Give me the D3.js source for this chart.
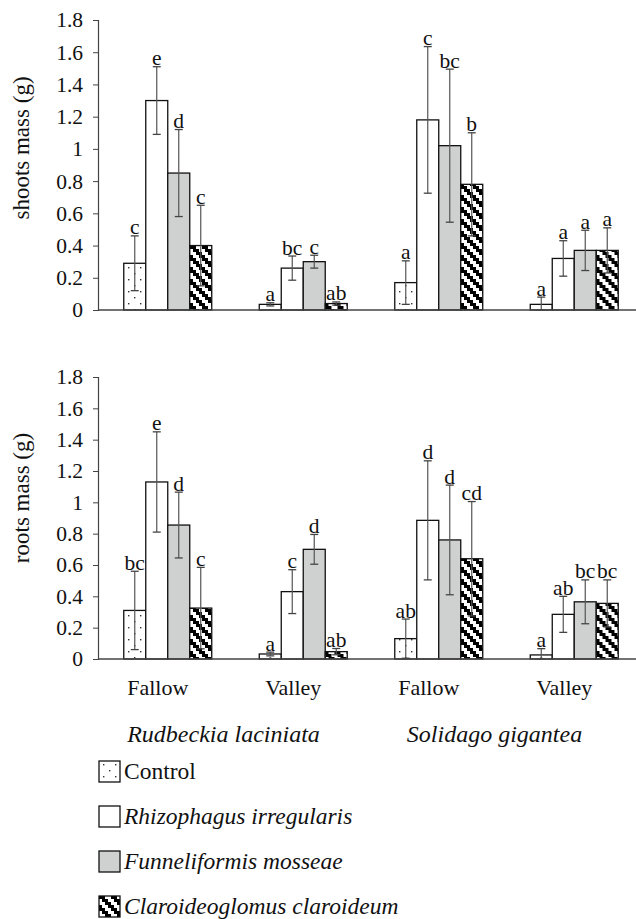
<!DOCTYPE html>
<html>
<head>
<meta charset="utf-8">
<script src="https://cdn.jsdelivr.net/npm/d3@7"></script>
<style>
  body { margin: 0; background: #fff; }
  svg { display: block; }
  svg text { font-family: "Liberation Serif", "Times New Roman", "DejaVu Serif", serif; }
</style>
</head>
<body>
<div id="chart"></div>
<script>
// groups on the x axis, two sites per plant species
var groupKeys = ["R-Fallow", "R-Valley", "S-Fallow", "S-Valley"];
var groupLabels = ["Fallow", "Valley", "Fallow", "Valley"];
var species = ["Rudbeckia laciniata", "Solidago gigantea"];
var treatments = ["Control", "Rhizophagus irregularis", "Funneliformis mosseae", "Claroideoglomus claroideum"];
var yTicks = [0, 0.2, 0.4, 0.6, 0.8, 1, 1.2, 1.4, 1.6, 1.8];

// shoots mass (g): one row per group, one value per treatment
var shootsMean = [[0.29, 1.30, 0.85, 0.40], [0.035, 0.26, 0.30, 0.04], [0.17, 1.18, 1.02, 0.78], [0.035, 0.32, 0.37, 0.37]];
var shootsErr = [[0.17, 0.21, 0.27, 0.25], [0.01, 0.075, 0.04, 0.01], [0.135, 0.455, 0.475, 0.32], [0.045, 0.11, 0.125, 0.14]];
var shootsLetters = [["c", "e", "d", "c"], ["a", "bc", "c", "ab"], ["a", "c", "bc", "b"], ["a", "a", "a", "a"]];

// roots mass (g)
var rootsMean = [[0.31, 1.13, 0.855, 0.325], [0.032, 0.43, 0.70, 0.047], [0.13, 0.885, 0.76, 0.64], [0.026, 0.285, 0.365, 0.355]];
var rootsErr = [[0.25, 0.32, 0.21, 0.26], [0.012, 0.14, 0.095, 0.02], [0.125, 0.38, 0.35, 0.365], [0.04, 0.115, 0.14, 0.15]];
var rootsLetters = [["bc", "e", "d", "c"], ["a", "c", "d", "ab"], ["ab", "d", "d", "cd"], ["a", "ab", "bc", "bc"]];

var width = 636, height = 919;
var axisX = 98, axisEnd = 636;
var serif = "'Liberation Serif', 'Times New Roman', 'DejaVu Serif', serif";

var svg = d3.select("#chart").append("svg")
	.attr("width", width)
	.attr("height", height)
	.attr("font-family", serif);

var defs = svg.append("defs");

// sparse dots for Control
var dots = defs.append("pattern")
	.attr("id", "dots")
	.attr("patternUnits", "userSpaceOnUse")
	.attr("width", 12).attr("height", 12);
dots.append("rect").attr("width", 12).attr("height", 12).attr("fill", "#fff");
dots.append("rect").attr("x", 4).attr("y", 3).attr("width", 1.4).attr("height", 1.4).attr("fill", "#333");
dots.append("rect").attr("x", 10).attr("y", 9).attr("width", 1.4).attr("height", 1.4).attr("fill", "#333");

// stepped diagonal stripes for Claroideoglomus
var stairs = defs.append("pattern")
	.attr("id", "stairs")
	.attr("patternUnits", "userSpaceOnUse")
	.attr("width", 12).attr("height", 12);
stairs.append("rect").attr("width", 12).attr("height", 12).attr("fill", "#fff");
for (var i = 0; i < 4; i++) {
	for (var k = 0; k < 2; k++) {
		stairs.append("rect")
			.attr("x", (3 * i + 3 * k) % 12)
			.attr("y", 3 * i)
			.attr("width", 3).attr("height", 3)
			.attr("fill", "#000");
	}
}

var fills = ["url(#dots)", "#fff", "#cfd1d1", "url(#stairs)"];

var x0 = d3.scaleBand()
	.domain(groupKeys)
	.range([100, 642])
	.paddingInner(0).paddingOuter(0);

var x1 = d3.scaleBand()
	.domain(treatments)
	.range([0, x0.bandwidth()])
	.paddingInner(0).paddingOuter(1.08);

function drawPanel(top, bottom, means, errs, letters, label, labelY) {
	var y = d3.scaleLinear().domain([0, 1.8]).range([bottom, top]);
	var g = svg.append("g");

	var yAxis = g.append("g")
		.attr("transform", "translate(" + axisX + ",0)")
		.call(d3.axisLeft(y).tickValues(yTicks).tickSize(5).tickPadding(10)
			.tickFormat(function(d) { return String(+d.toFixed(1)); }));
	yAxis.attr("font-family", serif).attr("font-size", 21.5);
	yAxis.select(".domain").attr("stroke", "#444").attr("stroke-width", 1.2);
	yAxis.selectAll(".tick line").attr("stroke", "#444");
	yAxis.selectAll(".tick text").attr("fill", "#111");

	g.append("text")
		.attr("transform", "translate(29," + labelY + ") rotate(-90)")
		.attr("text-anchor", "middle")
		.attr("font-size", 23)
		.attr("fill", "#111")
		.text(label);

	groupKeys.forEach(function(key, gi) {
		var gg = g.append("g").attr("transform", "translate(" + x0(key) + ",0)");
		treatments.forEach(function(t, ti) {
			var m = means[gi][ti], e = errs[gi][ti];
			var bx = x1(t), bw = x1.bandwidth(), cx = bx + bw / 2;
			gg.append("rect")
				.attr("x", bx).attr("y", y(m))
				.attr("width", bw).attr("height", y(0) - y(m))
				.attr("fill", fills[ti])
				.attr("stroke", "#111").attr("stroke-width", 1.3);
			var lo = Math.max(0, m - e), hi = m + e;
			gg.append("line")
				.attr("x1", cx).attr("x2", cx)
				.attr("y1", y(lo)).attr("y2", y(hi))
				.attr("stroke", "#555").attr("stroke-width", 1.2);
			[lo, hi].forEach(function(v) {
				gg.append("line")
					.attr("x1", cx - 4).attr("x2", cx + 4)
					.attr("y1", y(v)).attr("y2", y(v))
					.attr("stroke", "#444").attr("stroke-width", 1.3);
			});
			gg.append("text")
				.attr("x", cx).attr("y", y(hi) - 1.5)
				.attr("text-anchor", "middle")
				.attr("font-size", 21.5)
				.attr("fill", "#111")
				.text(letters[gi][ti]);
		});
	});

	g.append("line")
		.attr("x1", axisX).attr("x2", axisEnd)
		.attr("y1", y(0)).attr("y2", y(0))
		.attr("stroke", "#444").attr("stroke-width", 1.3);
}

drawPanel(20, 310, shootsMean, shootsErr, shootsLetters, "shoots mass (g)", 148);
drawPanel(377, 659, rootsMean, rootsErr, rootsLetters, "roots mass (g)", 498);

// site labels
svg.append("g").selectAll("text")
	.data(groupKeys)
	.join("text")
	.attr("x", function(d) { return x0(d) + x0.bandwidth() / 2 - 10; })
	.attr("y", 695)
	.attr("text-anchor", "middle")
	.attr("font-size", 22)
	.attr("fill", "#111")
	.text(function(d, i) { return groupLabels[i]; });

// species labels
svg.append("g").selectAll("text")
	.data(species)
	.join("text")
	.attr("x", function(d, i) {
		var a = x0(groupKeys[2 * i]), b = x0(groupKeys[2 * i + 1]);
		return (a + b + x0.bandwidth()) / 2 - 12;
	})
	.attr("y", 742)
	.attr("text-anchor", "middle")
	.attr("font-size", 24)
	.attr("font-style", "italic")
	.attr("fill", "#111")
	.text(function(d) { return d; });

// legend
var legend = svg.append("g").attr("transform", "translate(99,761)");
treatments.forEach(function(t, i) {
	var row = legend.append("g").attr("transform", "translate(0," + (i * 45) + ")");
	row.append("rect")
		.attr("width", 21).attr("height", 21)
		.attr("fill", fills[i])
		.attr("stroke", "#111").attr("stroke-width", 1.3);
	row.append("text")
		.attr("x", 25).attr("y", 18)
		.attr("font-size", 23.5)
		.attr("font-style", i === 0 ? "normal" : "italic")
		.attr("fill", "#111")
		.text(t);
});
</script>
</body>
</html>
